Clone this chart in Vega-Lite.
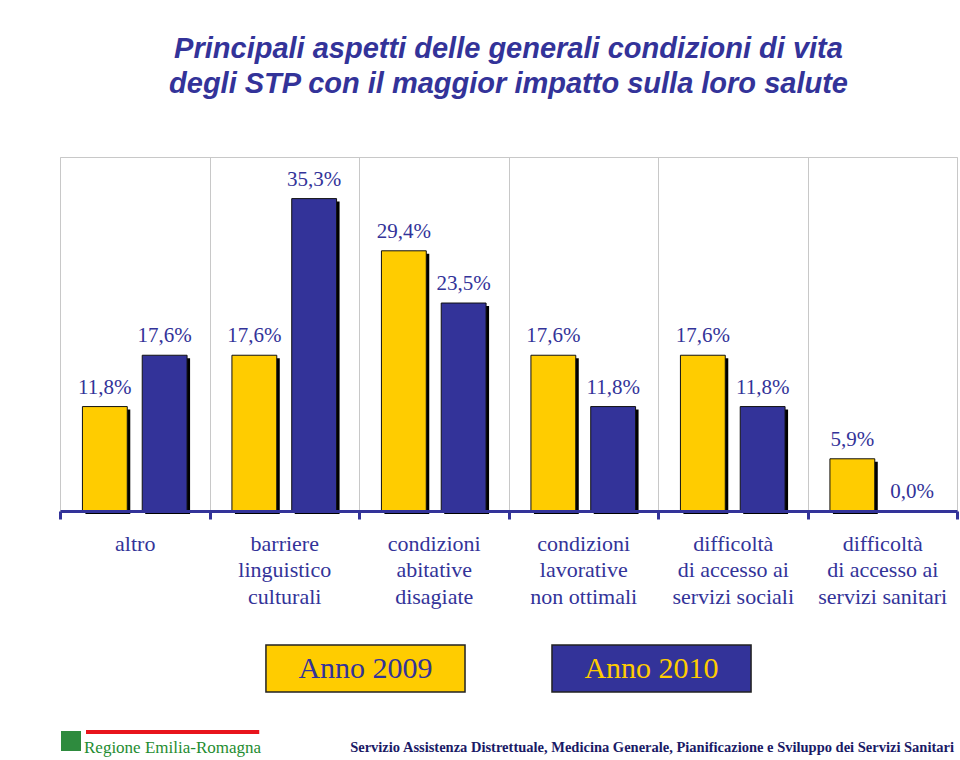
{
  "$schema": "https://vega.github.io/schema/vega-lite/v6.json",
  "padding": {"left": 58, "top": 34, "right": 5, "bottom": 0},
  "background": "white",
  "config": {
    "view": {"stroke": null},
    "locale": {"number": {"decimal": ",", "thousands": ".", "grouping": [3], "currency": ["", " €"]}}
  },
  "spacing": 36,
  "vconcat": [
    {
      "width": 897,
      "height": 354,
      "view": {"stroke": "#C8C8C8"},
      "title": {
        "text": ["Principali aspetti delle generali condizioni di vita", "degli STP con il maggior impatto sulla loro salute"],
        "font": "Liberation Sans",
        "fontSize": 29,
        "fontStyle": "italic",
        "fontWeight": "bold",
        "color": "#333399",
        "anchor": "middle",
        "lineHeight": 35,
        "offset": 58
      },
      "data": {
        "values": [
          {"categoria": "altro", "anno": "Anno 2009", "valore": 0.118},
          {"categoria": "altro", "anno": "Anno 2010", "valore": 0.176},
          {"categoria": "barriere\nlinguistico\nculturali", "anno": "Anno 2009", "valore": 0.176},
          {"categoria": "barriere\nlinguistico\nculturali", "anno": "Anno 2010", "valore": 0.353},
          {"categoria": "condizioni\nabitative\ndisagiate", "anno": "Anno 2009", "valore": 0.294},
          {"categoria": "condizioni\nabitative\ndisagiate", "anno": "Anno 2010", "valore": 0.235},
          {"categoria": "condizioni\nlavorative\nnon ottimali", "anno": "Anno 2009", "valore": 0.176},
          {"categoria": "condizioni\nlavorative\nnon ottimali", "anno": "Anno 2010", "valore": 0.118},
          {"categoria": "difficoltà\ndi accesso ai\nservizi sociali", "anno": "Anno 2009", "valore": 0.176},
          {"categoria": "difficoltà\ndi accesso ai\nservizi sociali", "anno": "Anno 2010", "valore": 0.118},
          {"categoria": "difficoltà\ndi accesso ai\nservizi sanitari", "anno": "Anno 2009", "valore": 0.059},
          {"categoria": "difficoltà\ndi accesso ai\nservizi sanitari", "anno": "Anno 2010", "valore": 0.0}
        ]
      },
      "encoding": {
        "x": {
          "field": "categoria",
          "type": "nominal",
          "sort": null,
          "scale": {"type": "band", "paddingInner": 0, "paddingOuter": 0},
          "axis": {
            "title": null,
            "labelAngle": 0,
            "labelExpr": "split(datum.label, '\\n')",
            "labelFont": "Liberation Serif",
            "labelFontSize": 22,
            "labelColor": "#333399",
            "labelLineHeight": 26.5,
            "labelPadding": 14,
            "tickBand": "extent",
            "ticks": true,
            "tickColor": "#333399",
            "tickWidth": 3,
            "tickSize": 8,
            "domainColor": "#333399",
            "domainWidth": 3,
            "grid": true,
            "gridColor": "#C8C8C8",
            "gridWidth": 1,
            "zindex": 1
          }
        },
        "y": {"field": "valore", "type": "quantitative", "scale": {"domain": [0, 0.4]}, "axis": null}
      },
      "layer": [
        {
          "mark": {"type": "bar", "color": "black", "yOffset": 3},
          "encoding": {
            "xOffset": {"field": "anno", "type": "nominal", "scale": {"type": "band", "paddingInner": 0.25, "paddingOuter": 0.375, "range": [3, 152.5]}}
          }
        },
        {
          "mark": {"type": "bar", "stroke": "#111111", "strokeWidth": 1},
          "encoding": {
            "xOffset": {"field": "anno", "type": "nominal", "scale": {"type": "band", "paddingInner": 0.25, "paddingOuter": 0.375, "range": [0, 149.5]}},
            "fill": {"field": "anno", "type": "nominal", "scale": {"domain": ["Anno 2009", "Anno 2010"], "range": ["#FFCC00", "#333399"]}, "legend": null}
          }
        },
        {
          "mark": {"type": "text", "font": "Liberation Serif", "fontSize": 21, "color": "#333399", "baseline": "alphabetic", "dy": -13},
          "encoding": {
            "xOffset": {"field": "anno", "type": "nominal", "scale": {"type": "band", "paddingInner": 0.25, "paddingOuter": 0.375, "range": [0, 149.5]}},
            "text": {"field": "valore", "type": "quantitative", "format": ".1%"}
          }
        }
      ],
      "resolve": {"scale": {"xOffset": "independent"}}
    },
    {
      "width": 897,
      "height": 47,
      "data": {"values": [{"anno": "Anno 2009"}, {"anno": "Anno 2010"}]},
      "encoding": {
        "x": {"field": "anno", "type": "nominal", "scale": {"type": "band", "paddingInner": 0.304, "paddingOuter": 0.72}, "axis": null}
      },
      "layer": [
        {
          "mark": {"type": "rect", "stroke": "#222222", "strokeWidth": 1.5},
          "encoding": {"fill": {"field": "anno", "type": "nominal", "scale": {"range": ["#FFD72E", "#333399"]}, "legend": null}}
        },
        {
          "mark": {"type": "text", "font": "Liberation Serif", "fontSize": 30},
          "encoding": {"text": {"field": "anno"}, "color": {"field": "anno", "type": "nominal", "scale": {"range": ["#333399", "#FFCC00"]}, "legend": null}}
        }
      ]
    },
    {
      "width": 897,
      "height": 30,
      "data": {"values": [{"voce": "Regione Emilia-Romagna"}, {"voce": "Servizio Assistenza Distrettuale, Medicina Generale, Pianificazione e Sviluppo dei Servizi Sanitari"}]},
      "encoding": {
        "x": {"field": "voce", "type": "nominal", "scale": {"type": "band", "paddingInner": 0, "paddingOuter": 0}, "axis": null}
      },
      "layer": [
        {
          "transform": [{"filter": "datum.voce == 'Regione Emilia-Romagna'"}],
          "mark": {"type": "rule", "color": "#E8141C", "strokeWidth": 4, "xOffset": 26, "x2Offset": -25, "yOffset": -12},
          "encoding": {"x": {"field": "voce", "type": "nominal", "bandPosition": 0}, "x2": {"field": "voce"}}
        },
        {
          "transform": [{"filter": "datum.voce == 'Regione Emilia-Romagna'"}],
          "mark": {"type": "point", "shape": "square", "filled": true, "color": "#2E8B3E", "size": 400, "opacity": 1, "xOffset": 11, "yOffset": -3},
          "encoding": {"x": {"field": "voce", "type": "nominal", "bandPosition": 0}}
        },
        {
          "transform": [{"filter": "datum.voce == 'Regione Emilia-Romagna'"}],
          "mark": {"type": "text", "align": "left", "dx": 24, "dy": 4, "font": "Liberation Serif", "fontSize": 17, "color": "#1E8C30"},
          "encoding": {"x": {"field": "voce", "type": "nominal", "bandPosition": 0}, "text": {"field": "voce"}}
        },
        {
          "transform": [{"filter": "datum.voce != 'Regione Emilia-Romagna'"}],
          "mark": {"type": "text", "align": "right", "dx": -3, "dy": 4, "font": "Liberation Serif", "fontWeight": "bold", "fontSize": 14.5, "color": "#1A1A66"},
          "encoding": {"x": {"field": "voce", "type": "nominal", "bandPosition": 1}, "text": {"field": "voce"}}
        }
      ]
    }
  ]
}
